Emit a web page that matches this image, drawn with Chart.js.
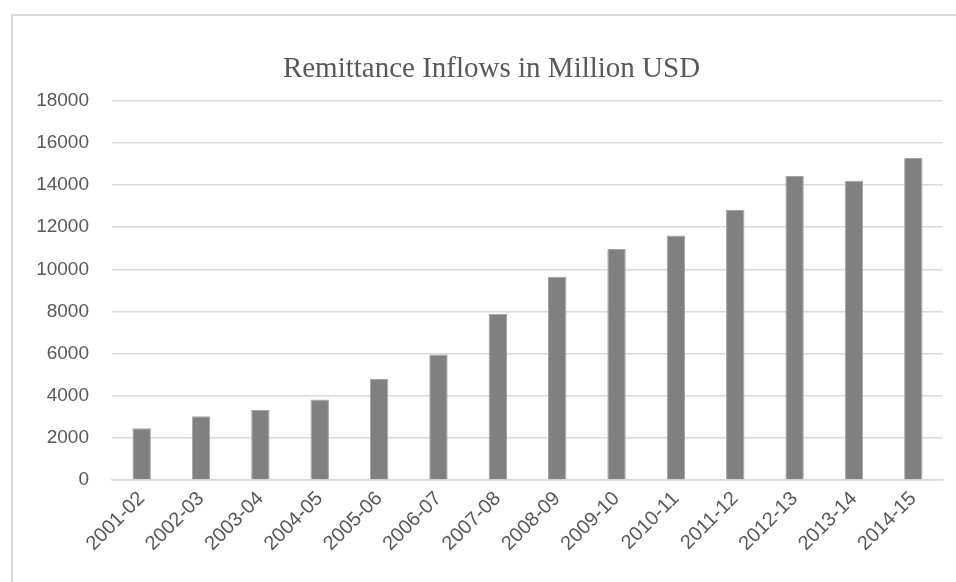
<!DOCTYPE html>
<html>
<head>
<meta charset="utf-8">
<script src="https://cdn.jsdelivr.net/npm/chart.js@4.4.0/dist/chart.umd.min.js"></script>
<style>
	html, body { margin: 0; padding: 0; background: #fff; overflow: hidden; }
	#wrap { position: relative; width: 956px; height: 582px; }
	#frame {
		position: absolute; left: 11px; top: 14px; right: -10px; bottom: -10px;
		border-top: 2px solid #d9d9d9; border-left: 2px solid #d9d9d9;
	}
	#chart-canvas { position: absolute; left: 0; top: 0; }
</style>
</head>
<body>
<div id="wrap">
	<div id="frame"></div>
	<canvas id="chart-canvas" width="956" height="582"></canvas>
</div>
<script>
const years = ['2001-02', '2002-03', '2003-04', '2004-05', '2005-06', '2006-07', '2007-08',
	'2008-09', '2009-10', '2010-11', '2011-12', '2012-13', '2013-14', '2014-15'];
const inflows = [2460, 3030, 3340, 3820, 4790, 5960, 7890, 9650, 10970, 11610, 12820, 14430, 14210, 15290];
const yMax = 18000;
const yStep = 2000;

const ctx = document.querySelector('#chart-canvas').getContext('2d');
const textColor = '#595959';
const gridColor = '#d9d9d9';
const sans = '"Liberation Sans", Arial, sans-serif';

// the original title sits a bit right of the canvas centre
const nudgeTitle = {
	id: 'nudgeTitle',
	afterLayout: chart => {
		if (chart.titleBlock) chart.titleBlock.left += 40;
	}
};

new Chart(ctx, {
	type: 'bar',
	data: {
		labels: years,
		datasets: [{
			label: 'Remittance',
			data: inflows,
			backgroundColor: '#808080',
			borderColor: '#a3a3a3',
			borderWidth: 1,
			borderSkipped: 'bottom',
			barPercentage: 0.31,
			categoryPercentage: 1
		}]
	},
	options: {
		responsive: false,
		animation: false,
		layout: { padding: { left: 0, right: 13, top: 0, bottom: 0 } },
		plugins: {
			legend: { display: false },
			tooltip: { enabled: false },
			title: {
				display: true,
				text: 'Remittance Inflows in Million USD',
				color: textColor,
				font: { family: '"Liberation Serif", "Times New Roman", serif', size: 29, weight: 'normal', lineHeight: 1.2 },
				padding: { top: 52, bottom: 14 }
			}
		},
		scales: {
			x: {
				grid: { display: false, drawTicks: false },
				border: { display: true, color: gridColor, width: 1.5 },
				ticks: {
					color: textColor,
					font: { family: sans, size: 20 },
					minRotation: 45,
					maxRotation: 45,
					padding: 7,
					autoSkip: false
				},
				afterFit: scale => { scale.height = 102; }
			},
			y: {
				min: 0,
				max: yMax,
				grid: { color: gridColor, lineWidth: 1.5, drawTicks: false },
				border: { display: false },
				ticks: {
					stepSize: yStep,
					color: textColor,
					font: { family: sans, size: 19 },
					padding: 23,
					callback: val => String(val)
				},
				afterFit: scale => { scale.width = 112; }
			}
		}
	},
	plugins: [nudgeTitle]
});
</script>
</body>
</html>
